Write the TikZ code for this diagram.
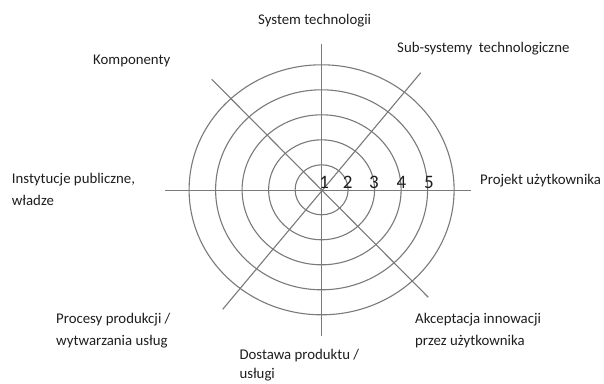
\documentclass[tikz,border=0pt]{standalone}
\usepackage{fontspec}
\setmainfont{Carlito}
\definecolor{gridgray}{HTML}{7A7A7A}
\definecolor{txt}{HTML}{1E1E1E}
\begin{document}
\begin{tikzpicture}[x=1pt,y=-1pt,
  axis/.style={draw=gridgray,line width=1.1pt},
  ring/.style={draw=gridgray,line width=1.1pt},
  lbl/.style={anchor=base west,inner sep=0pt,text=txt,font=\fontsize{14.8}{18}\selectfont},
  num/.style={anchor=base,inner sep=0pt,text=txt,font=\fontsize{19}{22}\selectfont}]
\useasboundingbox (0,0) rectangle (604,383);
\fill[white] (0,0) rectangle (604,383);
% centre and axis ends
\coordinate (c) at (321.6,189.8);
\coordinate (n) at (321.6,44.3);
\coordinate (s) at (321.6,336);
\coordinate (w) at (165,190.3);
\coordinate (e) at (470.7,190.3);
\coordinate (ne) at (420.7,72.7);
\coordinate (sw) at (222.7,309.3);
\coordinate (nw) at (211.7,79.3);
\coordinate (se) at (428.3,297.3);
% rings
\foreach \k in {1,...,5}
  \draw[ring] (c) ellipse [x radius={26.5*\k}, y radius={25*\k}];
% axes
\draw[axis] (n) -- (s);
\draw[axis] (w) -- (e);
\draw[axis] (ne) -- (sw);
\draw[axis] (nw) -- (se);
% scale numbers
\node[num] (n1) at (324.3,188.6) {1};
\node[num] (n2) at (347.7,188.6) {2};
\node[num] (n3) at (374,188.6) {3};
\node[num] (n4) at (401.5,188.6) {4};
\node[num] (n5) at (429,188.6) {5};
% labels
\node[lbl] (l1) at (258,24) {System technologii};
\node[lbl] (l2) at (397,52.5) {Sub-systemy\ \ technologiczne};
\node[lbl] (l3) at (93,64) {Komponenty};
\node[lbl] (l4) at (480,184.5) {Projekt użytkownika};
\node[lbl] (l5a) at (11.7,183.5) {Instytucje publiczne,};
\node[lbl] (l5b) at (11.7,205) {władze};
\node[lbl] (l6a) at (56,323.5) {Procesy produkcji /};
\node[lbl] (l6b) at (56,345) {wytwarzania usług};
\node[lbl] (l7a) at (415,323.5) {Akceptacja innowacji};
\node[lbl] (l7b) at (415,345) {przez użytkownika};
\node[lbl] (l8a) at (239.3,359) {Dostawa produktu /};
\node[lbl] (l8b) at (239.3,378.3) {usługi};
\end{tikzpicture}
\end{document}
